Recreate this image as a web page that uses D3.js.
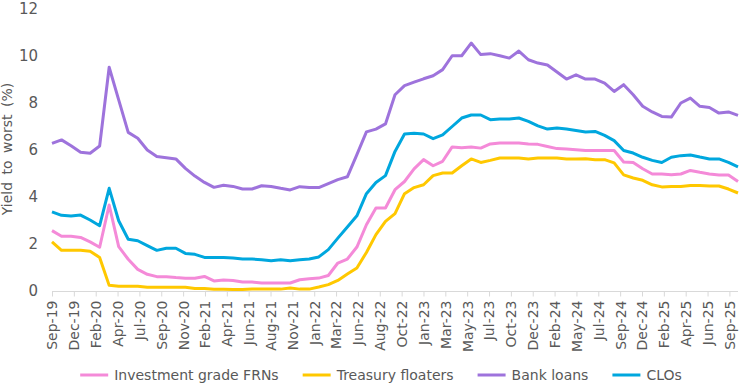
<!DOCTYPE html>
<html>
<head>
<meta charset="utf-8">
<script src="https://cdn.jsdelivr.net/npm/d3@7"></script>
<style>
	body { margin: 0; background: #fff; }
	text { font-family: "DejaVu Sans", sans-serif; fill: #595959; }
</style>
</head>
<body>
<svg id="chart" width="740" height="386"></svg>
<script>
// monthly observations, Sep-19 .. Sep-25
var months = d3.timeMonth.range(new Date(2019, 8, 1), new Date(2025, 9, 1));

var tickLabels = ["Sep-19", "Dec-19", "Feb-20", "Apr-20", "Jul-20", "Sep-20", "Nov-20", "Feb-21",
	"Apr-21", "Jun-21", "Aug-21", "Nov-21", "Jan-22", "Mar-22", "Jun-22", "Aug-22", "Oct-22",
	"Jan-23", "Mar-23", "May-23", "Jul-23", "Oct-23", "Dec-23", "Feb-24", "May-24", "Jul-24",
	"Sep-24", "Dec-24", "Feb-25", "Apr-25", "Jun-25", "Sep-25"];

var yTicks = [0, 2, 4, 6, 8, 10, 12];

var igFrns = [2.57, 2.33, 2.33, 2.28, 2.09, 1.86, 3.66, 1.89, 1.35, 0.92, 0.71, 0.61, 0.61, 0.57,
	0.54, 0.54, 0.62, 0.43, 0.47, 0.45, 0.38, 0.38, 0.34, 0.34, 0.34, 0.34, 0.48, 0.52, 0.55, 0.66,
	1.19, 1.36, 1.87, 2.82, 3.53, 3.53, 4.31, 4.66, 5.20, 5.59, 5.33, 5.52, 6.13, 6.10, 6.13, 6.08,
	6.26, 6.30, 6.30, 6.30, 6.26, 6.24, 6.15, 6.06, 6.04, 6.01, 5.98, 5.98, 5.98, 5.98, 5.49, 5.47,
	5.20, 4.98, 4.98, 4.95, 4.98, 5.13, 5.05, 4.98, 4.94, 4.94, 4.66];

var treasuryFloaters = [2.09, 1.73, 1.73, 1.73, 1.69, 1.43, 0.24, 0.20, 0.20, 0.20, 0.16, 0.16, 0.16,
	0.16, 0.16, 0.11, 0.11, 0.07, 0.07, 0.06, 0.06, 0.08, 0.08, 0.08, 0.08, 0.13, 0.08, 0.08, 0.17,
	0.27, 0.45, 0.72, 0.98, 1.64, 2.40, 2.96, 3.29, 4.14, 4.40, 4.52, 4.91, 5.02, 5.02, 5.33, 5.62,
	5.47, 5.56, 5.66, 5.66, 5.66, 5.62, 5.66, 5.66, 5.66, 5.62, 5.62, 5.63, 5.59, 5.59, 5.45, 4.94,
	4.81, 4.71, 4.52, 4.43, 4.45, 4.45, 4.49, 4.49, 4.47, 4.47, 4.34, 4.17];

var bankLoans = [6.28, 6.43, 6.18, 5.90, 5.86, 6.17, 9.52, 8.13, 6.75, 6.50, 6.00, 5.72, 5.67, 5.62,
	5.22, 4.89, 4.62, 4.41, 4.50, 4.45, 4.34, 4.34, 4.48, 4.45, 4.37, 4.30, 4.44, 4.40, 4.40, 4.57,
	4.74, 4.86, 5.80, 6.77, 6.89, 7.11, 8.35, 8.74, 8.89, 9.03, 9.16, 9.42, 10.01, 10.01, 10.55,
	10.06, 10.10, 10.01, 9.91, 10.21, 9.84, 9.70, 9.62, 9.32, 9.02, 9.20, 9.02, 9.02, 8.85, 8.49,
	8.78, 8.35, 7.86, 7.62, 7.43, 7.40, 8.00, 8.21, 7.86, 7.81, 7.57, 7.62, 7.47];

var clos = [3.37, 3.22, 3.19, 3.23, 3.02, 2.78, 4.37, 2.99, 2.20, 2.14, 1.93, 1.73, 1.82, 1.82, 1.60,
	1.56, 1.43, 1.43, 1.43, 1.40, 1.36, 1.36, 1.33, 1.29, 1.33, 1.29, 1.33, 1.36, 1.45, 1.76, 2.25,
	2.72, 3.20, 4.14, 4.62, 4.91, 5.94, 6.68, 6.71, 6.68, 6.48, 6.64, 7.00, 7.36, 7.49, 7.49, 7.29,
	7.32, 7.32, 7.36, 7.22, 7.03, 6.89, 6.94, 6.89, 6.83, 6.77, 6.79, 6.62, 6.40, 5.98, 5.87, 5.69,
	5.56, 5.47, 5.69, 5.76, 5.79, 5.70, 5.62, 5.62, 5.47, 5.28];

var seriesNames = ["Investment grade FRNs", "Treasury floaters", "Bank loans", "CLOs"];
var seriesColors = ["#f48ad8", "#ffc800", "#9e73dc", "#00a7de"];
var seriesValues = [igFrns, treasuryFloaters, bankLoans, clos];

var svg = d3.select('#chart'),
	margin = {top: 9, right: 2, bottom: 95, left: 52},
	width = +svg.attr("width") - margin.left - margin.right,
	height = +svg.attr("height") - margin.top - margin.bottom;

var chart = svg.append("g")
	.attr("transform", "translate(" + margin.left + "," + margin.top + ")");

var x = d3.scaleLinear()
	.domain([0, months.length - 1])
	.range([0, width]);
// the category labels sit on evenly spaced ticks, a little short of the last point
var xTick = d3.scalePoint()
	.domain(tickLabels)
	.range([0, width - 8.6]);
var y = d3.scaleLinear()
	.domain([0, 12])
	.range([height, 0]);

// y axis: labels only
var yAxis = chart.append("g")
	.call(d3.axisLeft(y).tickValues(yTicks).tickSize(0).tickPadding(14));
yAxis.select(".domain").remove();
yAxis.selectAll("text")
	.style("font-size", "15px")
	.style("fill", "#595959");

// x axis
chart.append("line")
	.attr("x1", 0)
	.attr("x2", width)
	.attr("y1", height + 0.5)
	.attr("y2", height + 0.5)
	.attr("stroke", "#d9d9d9");

var xAxis = chart.append("g")
	.attr("transform", "translate(0," + (height + 0.5) + ")")
	.call(d3.axisBottom(xTick).tickSize(5));
xAxis.select(".domain").remove();
xAxis.selectAll(".tick line").attr("stroke", "#d9d9d9");
xAxis.selectAll("text")
	.style("font-size", "14px")
	.style("fill", "#595959")
	.attr("text-anchor", "end")
	.attr("transform", "rotate(-90)")
	.attr("x", -9)
	.attr("y", 0)
	.attr("dy", "0.35em");

svg.append("text")
	.attr("transform", "translate(12," + (margin.top + 140) + ") rotate(-90)")
	.attr("text-anchor", "middle")
	.style("font-size", "14px")
	.style("word-spacing", "3px")
	.text("Yield to worst (%)");

var line = d3.line()
	.x(function(d, i) { return x(i); })
	.y(function(d) { return y(d); });

chart.selectAll("path.series")
	.data(seriesValues)
	.enter()
	.append("path")
	.attr("class", "series")
	.attr("fill", "none")
	.attr("stroke", function(d, i) { return seriesColors[i]; })
	.attr("stroke-width", 3)
	.attr("stroke-linejoin", "round")
	.attr("d", line);

// legend
var legend = svg.append("g")
	.attr("transform", "translate(0,375)");
var item = legend.selectAll("g")
	.data(seriesNames)
	.enter()
	.append("g");
item.append("line")
	.attr("x1", 0)
	.attr("x2", 28)
	.attr("stroke", function(d, i) { return seriesColors[i]; })
	.attr("stroke-width", 3);
item.append("text")
	.attr("x", 34)
	.attr("dy", "0.35em")
	.style("font-size", "14px")
	.text(function(d) { return d; });

var pos = 0, starts = [];
item.each(function() {
	starts.push(pos);
	pos += 34 + this.querySelector("text").getComputedTextLength() + 24;
});
var total = pos - 24;
var left = 381 - total / 2;
item.attr("transform", function(d, i) { return "translate(" + (left + starts[i]) + ",0)"; });
</script>
</body>
</html>
